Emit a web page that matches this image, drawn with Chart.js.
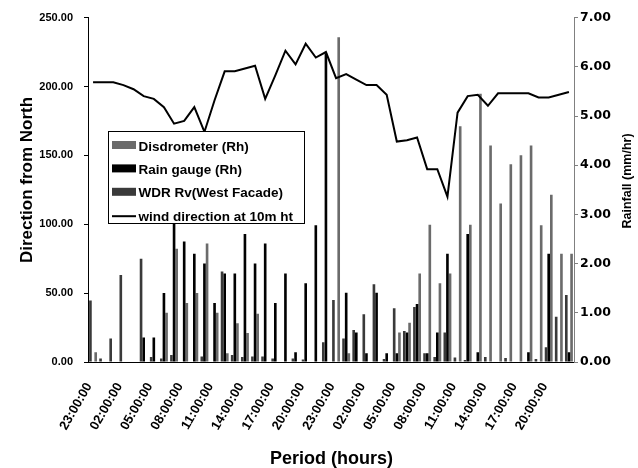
<!DOCTYPE html>
<html>
<head>
<meta charset="utf-8">
<script src="https://cdn.jsdelivr.net/npm/chart.js@4.4.1/dist/chart.umd.min.js"></script>
<style>
  html, body { margin: 0; padding: 0; background: #fff; }
  #wrap { width: 638px; height: 468px; }
</style>
</head>
<body>
<div id="wrap"><canvas id="chartRain" width="638" height="468"></canvas></div>
<script>
// hourly categories, two days starting at 23:00
const hours = [
  '23:00:00', '00:00:00', '01:00:00', '02:00:00', '03:00:00', '04:00:00', '05:00:00', '06:00:00',
  '07:00:00', '08:00:00', '09:00:00', '10:00:00', '11:00:00', '12:00:00', '13:00:00', '14:00:00',
  '15:00:00', '16:00:00', '17:00:00', '18:00:00', '19:00:00', '20:00:00', '21:00:00', '22:00:00',
  '23:00:00', '00:00:00', '01:00:00', '02:00:00', '03:00:00', '04:00:00', '05:00:00', '06:00:00',
  '07:00:00', '08:00:00', '09:00:00', '10:00:00', '11:00:00', '12:00:00', '13:00:00', '14:00:00',
  '15:00:00', '16:00:00', '17:00:00', '18:00:00', '19:00:00', '20:00:00', '21:00:00', '22:00:00'
];

// wind direction (deg from North) - left axis
const windDirection = [
  203, 203, 203, 201, 198, 193, 191, 185, 173, 175, 185, 167,
  190, 211, 211, 213, 215, 191, 208, 226, 216, 231, 221, 225,
  206, 209, 205, 201, 201, 194, 160, 161, 163, 140, 140, 120,
  181, 193, 194, 186, 195, 195, 195, 195, 192, 192, 194, 196
];

// rainfall (mm/hr) - right axis
const disdrometer = [
  0.20, 0, 0, 0, 0, 0, 0, 1.00, 2.30, 1.20, 1.40, 2.41,
  1.00, 0.18, 0.79, 0.59, 0.98, 0, 0, 0, 0, 0, 0, 0,
  6.60, 0.18, 0, 0, 0, 0, 0.60, 0.80, 1.80, 2.79, 1.60, 1.80,
  4.79, 2.79, 5.45, 4.40, 3.22, 4.02, 4.20, 4.40, 2.78, 3.40, 2.20, 2.20
];
const rainGauge = [
  0, 0, 0, 0, 0, 0.50, 0.50, 1.40, 3.60, 2.45, 2.20, 2.00,
  1.20, 1.80, 1.80, 2.60, 2.00, 2.41, 1.20, 1.80, 0.20, 1.60, 2.78, 6.27,
  0, 1.41, 0.60, 0.18, 1.41, 0.18, 0.18, 0.60, 1.18, 0.18, 0.60, 2.20,
  0, 2.60, 0.20, 0, 0, 0, 0, 0.20, 0, 2.20, 0, 0.20
];
const wdrWest = [
  1.25, 0.07, 0.48, 1.77, 0, 2.10, 0.10, 0.07, 0.14, 0, 0, 0.11,
  0, 1.84, 0.14, 0.10, 0.11, 0.11, 0.07, 0, 0.07, 0.05, 0, 0.40,
  1.26, 0.48, 0.65, 0.97, 1.58, 0.06, 1.09, 0.63, 1.12, 0.18, 0.10, 0.60,
  0.09, 0.04, 0, 0.10, 0, 0.08, 0, 0, 0.06, 0.30, 0.92, 1.36
];

const arial = '"Liberation Sans", Arial, sans-serif';
const boldFont = (size, family) => ({ family: family || arial, size: size, weight: 'bold' });

// legend box drawn inside the plot, like the original
const legendBox = {
  id: 'legendBox',
  afterDraw(chart) {
    const c = chart.ctx;
    c.save();
    c.fillStyle = '#fff';
    c.fillRect(108, 131, 196, 92);
    c.strokeStyle = '#000';
    c.lineWidth = 1;
    c.strokeRect(108.5, 131.5, 196, 92);
    c.font = 'bold 13.5px ' + arial;
    c.textBaseline = 'alphabetic';
    c.textAlign = 'left';
    chart.data.datasets.forEach((ds, i) => {
      const base = 150.5 + i * 23.4;
      if (ds.type === 'line') {
        c.fillStyle = ds.borderColor;
        c.fillRect(112, base - 5.5, 24, 2);
      } else {
        c.fillStyle = ds.backgroundColor;
        c.fillRect(112, base - 9.5, 24, 8);
      }
      c.fillStyle = '#000';
      c.fillText(ds.label, 138.5, base);
    });
    c.restore();
  }
};

// axis titles (both vertical titles read bottom to top)
const axisTitles = {
  id: 'axisTitles',
  afterDraw(chart) {
    const c = chart.ctx;
    c.save();
    c.fillStyle = '#000';
    c.textAlign = 'center';
    c.textBaseline = 'alphabetic';

    c.font = 'bold 18px ' + arial;
    c.fillText('Period (hours)', 331.5, 463.5);

    c.save();
    c.translate(32, 180);
    c.rotate(-Math.PI / 2);
    c.font = 'bold 17px ' + arial;
    c.fillText('Direction from North', 0, 0);
    c.restore();

    c.save();
    c.translate(631, 181);
    c.rotate(-Math.PI / 2);
    c.font = 'bold 12.5px ' + arial;
    c.fillText('Rainfall (mm/hr)', 0, 0);
    c.restore();

    c.restore();
  }
};

const ctx = document.getElementById('chartRain').getContext('2d');

new Chart(ctx, {
  type: 'bar',
  data: {
    labels: hours,
    datasets: [
      { label: 'Disdrometer (Rh)', data: disdrometer, backgroundColor: '#6b6b6b', yAxisID: 'y1', order: 3 },
      { label: 'Rain gauge (Rh)', data: rainGauge, backgroundColor: '#000000', yAxisID: 'y1', order: 2 },
      { label: 'WDR Rv(West Facade)', data: wdrWest, backgroundColor: '#3a3a3a', yAxisID: 'y1', order: 1 },
      {
        type: 'line', label: 'wind direction at 10m ht', data: windDirection,
        borderColor: '#000000', borderWidth: 2, pointRadius: 0, tension: 0,
        yAxisID: 'y', order: 0
      }
    ]
  },
  options: {
    responsive: false,
    animation: false,
    devicePixelRatio: 1,
    layout: { padding: { top: 17, left: 0, right: 0, bottom: 0 } },
    datasets: {
      bar: { categoryPercentage: 0.78, barPercentage: 1.0 }
    },
    plugins: {
      legend: { display: false },
      tooltip: { enabled: false }
    },
    scales: {
      x: {
        grid: { display: false, drawTicks: false },
        border: { display: true, color: '#000', width: 1 },
        ticks: {
          autoSkip: false, minRotation: 60, maxRotation: 60, padding: 18, labelOffset: -4,
          color: '#000', font: boldFont(13),
          callback: (v, i) => (i % 3 === 0 ? hours[i] : '')
        },
        afterFit: s => { s.height = 106; }
      },
      y: {
        position: 'left', min: 0, max: 250,
        ticks: { stepSize: 50, padding: 11, color: '#000', font: boldFont(11), callback: v => v.toFixed(2) },
        grid: { drawOnChartArea: false, tickLength: 4, color: '#000' },
        border: { color: '#000', width: 1 },
        afterFit: s => { s.width = 88; }
      },
      y1: {
        position: 'right', min: 0, max: 7,
        ticks: { stepSize: 1, padding: 2, color: '#000', font: boldFont(12.5, '"DejaVu Sans", Verdana, sans-serif'), callback: v => v.toFixed(2) },
        grid: { drawOnChartArea: false, tickLength: 4, color: '#808080' },
        border: { color: '#808080', width: 1 },
        afterFit: s => { s.width = 64; }
      }
    }
  },
  plugins: [legendBox, axisTitles]
});
</script>
</body>
</html>
